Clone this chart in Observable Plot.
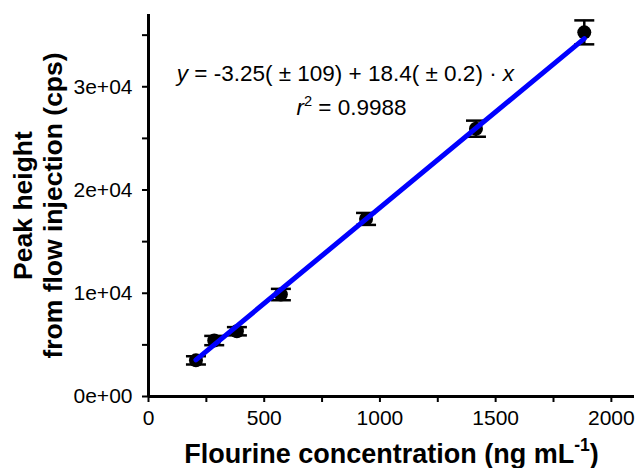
<!DOCTYPE html>
<html>
<head>
<meta charset="utf-8">
<script src="https://cdn.jsdelivr.net/npm/d3@7"></script>
<script src="https://cdn.jsdelivr.net/npm/@observablehq/plot@0.6"></script>
<style>
  html, body { margin: 0; padding: 0; background: #fff; }
  #chart svg { display: block; }
</style>
</head>
<body>
<div id="chart"></div>
<script>
// ---- data ----
const xValues = [205, 284, 382, 572, 940, 1415, 1883];          // ng/mL
const yValues = [3500, 5420, 6320, 9875, 17200, 25940, 35270];   // cps
const yErrors = [400, 450, 400, 550, 580, 780, 1160];            // cps (±)

const fitX = [205, 1883];
const fitY = [3550, 34660];

const xTicks = [0, 500, 1000, 1500, 2000];
const xMinorTicks = [250, 750, 1250, 1750];
const yTicks = [0, 10000, 20000, 30000];
const yTickLabels = ["0e+00", "1e+04", "2e+04", "3e+04"];
const yMinorTicks = [5000, 15000, 25000, 35000];

const eqLine1 = [{t: "y", i: true}, {t: " = -3.25( \u00b1 109) + 18.4( \u00b1 0.2) \u00b7 "}, {t: "x", i: true}];
const eqLine2 = [{t: "r", i: true}, {t: "2", sup: true}, {t: " = 0.9988"}];
const eqX = [851, 877];
const eqY = [30600, 27220];

const xTitle = [{t: "Flourine concentration (ng mL"}, {t: "-1", sup: true}, {t: ")"}];
const yTitle = "Peak height\nfrom flow injection (cps)";

// ---- build ----
const pts = xValues.map((x, i) => ({x, y: yValues[i], e: yErrors[i]}));
const fit = fitX.map((x, i) => ({x, y: fitY[i]}));
const plain = parts => parts.map(p => p.t).join("");
const eqRows = [
  {x: eqX[0], y: eqY[0], s: plain(eqLine1), parts: eqLine1},
  {x: eqX[1], y: eqY[1], s: plain(eqLine2), parts: eqLine2}
];

const capSymbol = {
  draw(ctx, size) {
    const w = Math.sqrt(size / Math.PI);
    ctx.moveTo(-w, 0);
    ctx.lineTo(w, 0);
  }
};

const font = "'Liberation Sans', Arial, Helvetica, sans-serif";

const plot = Plot.plot({
  width: 636,
  height: 468,
  marginLeft: 148,
  marginRight: 2,
  marginTop: 14,
  marginBottom: 72,
  x: {domain: [0, 2100]},
  y: {domain: [0, 37000]},
  style: {fontFamily: font, color: "black", background: "white", overflow: "visible"},
  marks: [
    Plot.axisX(xTicks, {tickSize: 6, tickPadding: 8, fontSize: 21, strokeWidth: 2, label: null, tickFormat: d => String(d)}),
    Plot.axisX(xMinorTicks, {tickSize: 6, strokeWidth: 2, label: null, tickFormat: () => ""}),
    Plot.axisY(yTicks, {tickSize: 6, tickPadding: 10, fontSize: 21, strokeWidth: 2, label: null,
      tickFormat: d => yTickLabels[yTicks.indexOf(d)]}),
    Plot.axisY(yMinorTicks, {tickSize: 6, strokeWidth: 2, label: null, tickFormat: () => ""}),
    Plot.ruleY([0], {strokeWidth: 3, stroke: "black"}),
    Plot.ruleX([0], {strokeWidth: 3, stroke: "black"}),
    // error bars
    Plot.ruleX(pts, {x: "x", y1: d => d.y - d.e, y2: d => d.y + d.e, stroke: "black", strokeWidth: 2.5}),
    Plot.dot(pts, {x: "x", y: d => d.y + d.e, symbol: capSymbol, r: 10, stroke: "black", strokeWidth: 2.5, fill: "none"}),
    Plot.dot(pts, {x: "x", y: d => d.y - d.e, symbol: capSymbol, r: 10, stroke: "black", strokeWidth: 2.5, fill: "none"}),
    // points
    Plot.dot(pts, {x: "x", y: "y", r: 7, fill: "black", stroke: "none"}),
    // fit line
    Plot.line(fit, {x: "x", y: "y", stroke: "#0000ff", strokeWidth: 5, strokeLinecap: "round"}),
    // equation
    Plot.text(eqRows, {x: "x", y: "y", text: "s", fontSize: 22.5, lineAnchor: "bottom", textAnchor: "middle", fill: "black"}),
    // axis titles
    Plot.text([plain(xTitle)], {frameAnchor: "bottom", dy: 66, lineAnchor: "bottom", textAnchor: "middle", fontSize: 27, fontWeight: "bold", fill: "black"}),
    Plot.text([yTitle], {frameAnchor: "left", dx: -111, rotate: -90, textAnchor: "middle", lineAnchor: "middle", lineHeight: 1.15, fontSize: 26.5, fontWeight: "bold", fill: "black"})
  ]
});

// rich text: italics and superscripts
function rebuild(el, parts, fs) {
  el.textContent = "";
  const ns = "http://www.w3.org/2000/svg";
  let shifted = false;
  parts.forEach(p => {
    const ts = document.createElementNS(ns, "tspan");
    ts.textContent = p.t;
    if (p.i) ts.setAttribute("font-style", "italic");
    if (p.sup) {
      ts.setAttribute("font-size", (fs * 0.65) + "px");
      ts.setAttribute("dy", (-0.42 * fs) + "px");
      shifted = true;
    } else if (shifted) {
      ts.setAttribute("dy", (0.42 * fs) + "px");
      shifted = false;
    }
    el.appendChild(ts);
  });
}
const targets = [
  {s: plain(eqLine1), parts: eqLine1, fs: 22.5},
  {s: plain(eqLine2), parts: eqLine2, fs: 22.5},
  {s: plain(xTitle), parts: xTitle, fs: 27}
];
d3.select(plot).selectAll("text").each(function () {
  const tc = this.textContent;
  const tg = targets.find(t => t.s === tc && this.children.length === 0);
  if (tg) rebuild(this, tg.parts, tg.fs);
});

document.getElementById("chart").appendChild(plot);
</script>
</body>
</html>
